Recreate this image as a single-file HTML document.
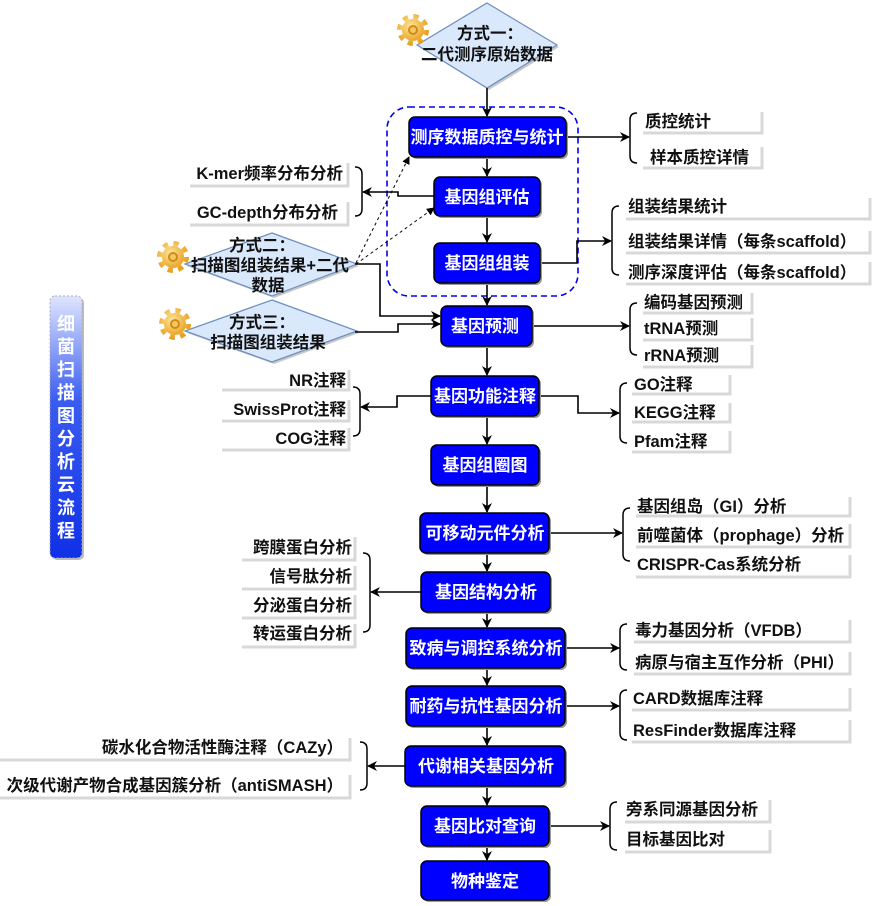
<!DOCTYPE html>
<html><head><meta charset="utf-8"><style>
html,body{margin:0;padding:0;background:#fff;}
svg{display:block;font-family:"Liberation Sans","Noto Sans CJK SC",sans-serif;}
.n{fill:#0000ff;stroke:#000;stroke-width:1.5;}
.ns{fill:#999;}
.nt{fill:#fff;font-weight:bold;font-size:17px;text-anchor:middle;}
.l{font-size:16.5px;font-weight:bold;fill:#111;}
.r{text-anchor:end;}
.ln{fill:none;stroke:#000;stroke-width:1.6;}
.br{fill:none;stroke:#000;stroke-width:1.5;}
.sh{fill:none;stroke:#d8d8d8;stroke-width:3;}
.dm{fill:#dae8fc;stroke:#6c8ebf;stroke-width:1.2;}
.dt{font-size:16.5px;font-weight:bold;fill:#111;text-anchor:middle;}
</style></head><body>
<svg width="874" height="906" viewBox="0 0 874 906" xmlns="http://www.w3.org/2000/svg">
<defs>
<marker id="a" markerWidth="10" markerHeight="10" refX="9" refY="5" orient="auto" markerUnits="userSpaceOnUse"><path d="M0,0 L10,5 L0,10 L3,5 z" fill="#000"/></marker>
<marker id="ad" markerWidth="8" markerHeight="8" refX="7" refY="4" orient="auto" markerUnits="userSpaceOnUse"><path d="M0,0 L8,4 L0,8 z" fill="#000"/></marker>
<linearGradient id="g" x1="0" y1="0" x2="0" y2="1"><stop offset="0" stop-color="#dfe6ff"/><stop offset="0.4" stop-color="#3a5cf0"/><stop offset="1" stop-color="#1030e8"/></linearGradient>
<radialGradient id="gg" cx="0.4" cy="0.35" r="0.7"><stop offset="0" stop-color="#ffe9a0"/><stop offset="1" stop-color="#e8a020"/></radialGradient>
<g id="gear"><circle r="11" fill="url(#gg)"/><circle r="13" fill="none" stroke="url(#gg)" stroke-width="6" stroke-dasharray="5 5.2"/><circle r="5" fill="#d08a18"/><circle r="3" fill="#f6c860"/></g>
</defs>

<rect x="52" y="298" width="32" height="262" rx="5" fill="#bbb"/>
<rect x="50" y="296" width="32" height="262" rx="5" fill="url(#g)" stroke="#aab" stroke-dasharray="2 2"/>
<g fill="#fff" font-weight="bold" font-size="18" text-anchor="middle">
<text x="66" y="330">细</text><text x="66" y="353">菌</text><text x="66" y="376">扫</text><text x="66" y="399">描</text><text x="66" y="422">图</text><text x="66" y="445">分</text><text x="66" y="468">析</text><text x="66" y="491">云</text><text x="66" y="514">流</text><text x="66" y="537">程</text>
</g>

<rect x="387" y="107" width="191" height="189" rx="22" fill="none" stroke="#0000ee" stroke-width="1.6" stroke-dasharray="6 4"/>

<polygon points="487,3 557,45 487,88 417,45" fill="#c8c8c8" transform="translate(2,2)"/>
<polygon class="dm" points="487,3 557,45 487,88 417,45"/>
<text class="dt" x="490" y="39">方式一：</text>
<text class="dt" x="487" y="60">二代测序原始数据</text>
<use href="#gear" x="413" y="30"/>

<polygon points="272,233 357,264 272,296 185,264" fill="#c8c8c8" transform="translate(2,2)"/>
<polygon class="dm" points="272,233 357,264 272,296 185,264"/>
<text class="dt" x="262" y="251">方式二：</text>
<text class="dt" x="270" y="271">扫描图组装结果+二代</text>
<text class="dt" x="268" y="291">数据</text>
<use href="#gear" x="173" y="257"/>

<polygon points="272,300 357,331 272,362 185,331" fill="#c8c8c8" transform="translate(2,2)"/>
<polygon class="dm" points="272,300 357,331 272,362 185,331"/>
<text class="dt" x="262" y="328">方式三：</text>
<text class="dt" x="268" y="348">扫描图组装结果</text>
<use href="#gear" x="175" y="324"/>

<g class="ln">
<line x1="487" y1="88" x2="487" y2="116" marker-end="url(#a)"/>
<line x1="487" y1="157" x2="487" y2="176" marker-end="url(#a)"/>
<line x1="487" y1="216" x2="487" y2="242" marker-end="url(#a)"/>
<line x1="487" y1="283" x2="487" y2="305" marker-end="url(#a)"/>
<line x1="487" y1="346" x2="487" y2="375" marker-end="url(#a)"/>
<line x1="487" y1="416" x2="487" y2="444" marker-end="url(#a)"/>
<line x1="487" y1="485" x2="487" y2="512" marker-end="url(#a)"/>
<line x1="487" y1="553" x2="487" y2="571" marker-end="url(#a)"/>
<line x1="487" y1="612" x2="487" y2="627" marker-end="url(#a)"/>
<line x1="487" y1="668" x2="487" y2="685" marker-end="url(#a)"/>
<line x1="487" y1="726" x2="487" y2="745" marker-end="url(#a)"/>
<line x1="487" y1="786" x2="487" y2="805" marker-end="url(#a)"/>
<line x1="487" y1="846" x2="487" y2="860" marker-end="url(#a)"/>
<polyline points="355,264 380,264 380,316 440,316" marker-end="url(#a)"/>
<polyline points="355,332 398,332 398,324 440,324" marker-end="url(#a)"/>
<line x1="566" y1="137" x2="629" y2="137" marker-end="url(#a)"/>
<polyline points="540,263 577,263 577,241 611,241" marker-end="url(#a)"/>
<line x1="532" y1="326" x2="629" y2="326" marker-end="url(#a)"/>
<polyline points="539,396 578,396 578,413 619,413" marker-end="url(#a)"/>
<line x1="549" y1="533" x2="622" y2="533" marker-end="url(#a)"/>
<line x1="565" y1="648" x2="619" y2="648" marker-end="url(#a)"/>
<line x1="565" y1="706" x2="619" y2="706" marker-end="url(#a)"/>
<line x1="549" y1="826" x2="609" y2="826" marker-end="url(#a)"/>
<polyline points="434,196 398,196 398,192 363,192" marker-end="url(#a)"/>
<polyline points="431,396 397,396 397,407 361,407" marker-end="url(#a)"/>
<line x1="421" y1="592" x2="371" y2="592" marker-end="url(#a)"/>
<line x1="405" y1="766" x2="368" y2="766" marker-end="url(#a)"/>
</g>
<g stroke="#000" stroke-width="1" stroke-dasharray="3 3" fill="none">
<line x1="356" y1="263" x2="409" y2="157" marker-end="url(#ad)"/>
<line x1="356" y1="264" x2="434" y2="208" marker-end="url(#ad)"/>
</g>

<g class="br">
<path d="M637,113 Q630,113 630,120 L630,156 Q630,163 637,163"/>
<path d="M619,206 Q612,206 612,213 L612,268 Q612,275 619,275"/>
<path d="M637,303 Q630,303 630,310 L630,348 Q630,355 637,355"/>
<path d="M627,383 Q620,383 620,390 L620,436 Q620,443 627,443"/>
<path d="M630,508 Q623,508 623,515 L623,554 Q623,561 630,561"/>
<path d="M627,624 Q620,624 620,631 L620,663 Q620,670 627,670"/>
<path d="M627,690 Q620,690 620,697 L620,733 Q620,740 627,740"/>
<path d="M617,802 Q610,802 610,809 L610,843 Q610,850 617,850"/>
<path d="M355,167 Q362,167 362,174 L362,209 Q362,216 355,216"/>
<path d="M353,387 Q360,387 360,394 L360,429 Q360,436 353,436"/>
<path d="M363,553 Q370,553 370,560 L370,625 Q370,632 363,632"/>
<path d="M360,742 Q367,742 367,749 L367,783 Q367,790 360,790"/>
</g>

<g class="sh">
<polyline points="643,133 762,133 762,112"/>
<polyline points="643,168 762,168 762,147"/>
<polyline points="626,219 870,219 870,198"/>
<polyline points="626,253 870,253 870,231"/>
<polyline points="626,284 870,284 870,262"/>
<polyline points="643,313 752,313 752,293"/>
<polyline points="643,340 752,340 752,318"/>
<polyline points="643,367 752,367 752,345"/>
<polyline points="632,394 730,394 730,375"/>
<polyline points="632,422 730,422 730,403"/>
<polyline points="632,452 730,452 730,431"/>
<polyline points="636,516 850,516 850,497"/>
<polyline points="636,547 850,547 850,524"/>
<polyline points="636,577 850,577 850,555"/>
<polyline points="634,642 850,642 850,620"/>
<polyline points="634,674 850,674 850,652"/>
<polyline points="632,710 850,710 850,688"/>
<polyline points="632,742 850,742 850,720"/>
<polyline points="625,822 770,822 770,800"/>
<polyline points="625,852 770,852 770,830"/>
<polyline points="190,186 348,186 348,163"/>
<polyline points="190,225 348,225 348,202"/>
<polyline points="222,390 349,390 349,370"/>
<polyline points="222,421 349,421 349,400"/>
<polyline points="222,450 349,450 349,428"/>
<polyline points="242,560 355,560 355,537"/>
<polyline points="242,589 355,589 355,566"/>
<polyline points="242,618 355,618 355,595"/>
<polyline points="242,647 355,647 355,624"/>
<polyline points="0,760 350,760 350,738"/>
<polyline points="0,798 350,798 350,775"/>
</g>

<g class="l">
<text x="645" y="127">质控统计</text>
<text x="650" y="163">样本质控详情</text>
<text x="628" y="212">组装结果统计</text>
<text x="628" y="247">组装结果详情（每条scaffold）</text>
<text x="628" y="278">测序深度评估（每条scaffold）</text>
<text x="644" y="308">编码基因预测</text>
<text x="644" y="334">tRNA预测</text>
<text x="644" y="361">rRNA预测</text>
<text x="634" y="390">GO注释</text>
<text x="634" y="418">KEGG注释</text>
<text x="634" y="447">Pfam注释</text>
<text x="637" y="512">基因组岛（GI）分析</text>
<text x="637" y="541">前噬菌体（prophage）分析</text>
<text x="637" y="570">CRISPR-Cas系统分析</text>
<text x="635" y="636">毒力基因分析（VFDB）</text>
<text x="635" y="668">病原与宿主互作分析（PHI）</text>
<text x="633" y="704">CARD数据库注释</text>
<text x="633" y="736">ResFinder数据库注释</text>
<text x="626" y="815">旁系同源基因分析</text>
<text x="626" y="845">目标基因比对</text>
</g>
<g class="l r">
<text x="343" y="179">K-mer频率分布分析</text>
<text x="338" y="218">GC-depth分布分析</text>
<text x="346" y="386">NR注释</text>
<text x="346" y="415">SwissProt注释</text>
<text x="346" y="444">COG注释</text>
<text x="352" y="553">跨膜蛋白分析</text>
<text x="352" y="582">信号肽分析</text>
<text x="352" y="611">分泌蛋白分析</text>
<text x="352" y="639">转运蛋白分析</text>
<text x="343" y="753">碳水化合物活性酶注释（CAZy）</text>
<text x="343" y="791">次级代谢产物合成基因簇分析（antiSMASH）</text>
</g>

<g>
<rect class="ns" x="411" y="119" width="157" height="40" rx="6"/><rect class="n" x="409" y="117" width="157" height="40" rx="6"/><text class="nt" x="487" y="143">测序数据质控与统计</text>
<rect class="ns" x="436" y="179" width="106" height="39" rx="6"/><rect class="n" x="434" y="177" width="106" height="39" rx="6"/><text class="nt" x="487" y="203">基因组评估</text>
<rect class="ns" x="436" y="245" width="106" height="40" rx="6"/><rect class="n" x="434" y="243" width="106" height="40" rx="6"/><text class="nt" x="487" y="269">基因组组装</text>
<rect class="ns" x="443" y="308" width="91" height="40" rx="6"/><rect class="n" x="441" y="306" width="91" height="40" rx="6"/><text class="nt" x="485" y="332">基因预测</text>
<rect class="ns" x="433" y="378" width="108" height="40" rx="6"/><rect class="n" x="431" y="376" width="108" height="40" rx="6"/><text class="nt" x="485" y="402">基因功能注释</text>
<rect class="ns" x="433" y="447" width="108" height="40" rx="6"/><rect class="n" x="431" y="445" width="108" height="40" rx="6"/><text class="nt" x="485" y="471">基因组圈图</text>
<rect class="ns" x="422" y="515" width="129" height="40" rx="6"/><rect class="n" x="420" y="513" width="129" height="40" rx="6"/><text class="nt" x="485" y="539">可移动元件分析</text>
<rect class="ns" x="423" y="574" width="129" height="40" rx="6"/><rect class="n" x="421" y="572" width="129" height="40" rx="6"/><text class="nt" x="486" y="598">基因结构分析</text>
<rect class="ns" x="408" y="630" width="159" height="40" rx="6"/><rect class="n" x="406" y="628" width="159" height="40" rx="6"/><text class="nt" x="486" y="654">致病与调控系统分析</text>
<rect class="ns" x="408" y="688" width="159" height="40" rx="6"/><rect class="n" x="406" y="686" width="159" height="40" rx="6"/><text class="nt" x="486" y="712">耐药与抗性基因分析</text>
<rect class="ns" x="407" y="748" width="160" height="40" rx="6"/><rect class="n" x="405" y="746" width="160" height="40" rx="6"/><text class="nt" x="486" y="772">代谢相关基因分析</text>
<rect class="ns" x="423" y="808" width="128" height="40" rx="6"/><rect class="n" x="421" y="806" width="128" height="40" rx="6"/><text class="nt" x="485" y="832">基因比对查询</text>
<rect class="ns" x="423" y="863" width="128" height="39" rx="6"/><rect class="n" x="421" y="861" width="128" height="39" rx="6"/><text class="nt" x="485" y="887">物种鉴定</text>
</g>
</svg>
</body></html>
